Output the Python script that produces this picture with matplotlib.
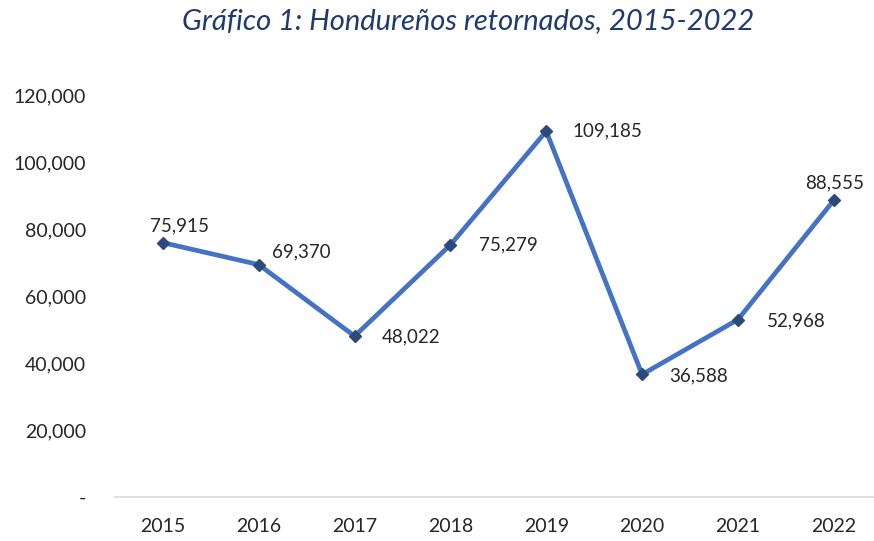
import matplotlib.pyplot as plt
from matplotlib.ticker import FuncFormatter

years = ['2015', '2016', '2017', '2018', '2019', '2020', '2021', '2022']
retornados = [75915, 69370, 48022, 75279, 109185, 36588, 52968, 88555]
y_ticks = [0, 20000, 40000, 60000, 80000, 100000, 120000]

# label offsets in pixels (dx, dy) relative to each point
label_offsets = [(17, 17), (43, 13), (56, -1), (58, 0), (61, 0), (57, -1), (58, -1), (1, 17)]

fig = plt.figure(figsize=(8.74, 5.41), dpi=100)
ax = fig.add_axes([0.1316, 0.0813, 0.8684, 0.7431])

x = list(range(len(years)))
ax.plot(x, retornados, color='#4472C4', linewidth=3.4, marker='D', markersize=6,
        markerfacecolor='#2E4A7D', markeredgecolor='#2E4A7D', zorder=3)

for xi, val, (dx, dy) in zip(x, retornados, label_offsets):
    ax.annotate(f'{val:,}', (xi, val), xytext=(dx, dy), textcoords='offset pixels',
                ha='center', va='center', fontsize=13.5, color='#262626', family='Lato')

ax.set_xlim(-0.5, 7.42)
ax.set_ylim(0, 120000)
ax.set_xticks(x)
ax.set_xticklabels(years)
ax.set_yticks(y_ticks)
ax.yaxis.set_major_formatter(FuncFormatter(lambda v, p: '-' if v == 0 else f'{int(v):,}'))

for s in ['top', 'right', 'left']:
    ax.spines[s].set_visible(False)
ax.spines['bottom'].set_color('#D9D9D9')
ax.spines['bottom'].set_linewidth(1.2)
ax.tick_params(axis='both', length=0, labelsize=14, colors='#262626')
ax.tick_params(axis='y', pad=21)
ax.tick_params(axis='x', pad=15)
for lbl in ax.get_xticklabels() + ax.get_yticklabels():
    lbl.set_family('Lato')

fig.text(0.536, 0.962, 'Gráfico 1: Hondureños retornados, 2015-2022', ha='center', va='center',
         fontsize=21, style='italic', color='#1F3A6E', family='Lato')

fig.savefig('out.png', dpi=100)
